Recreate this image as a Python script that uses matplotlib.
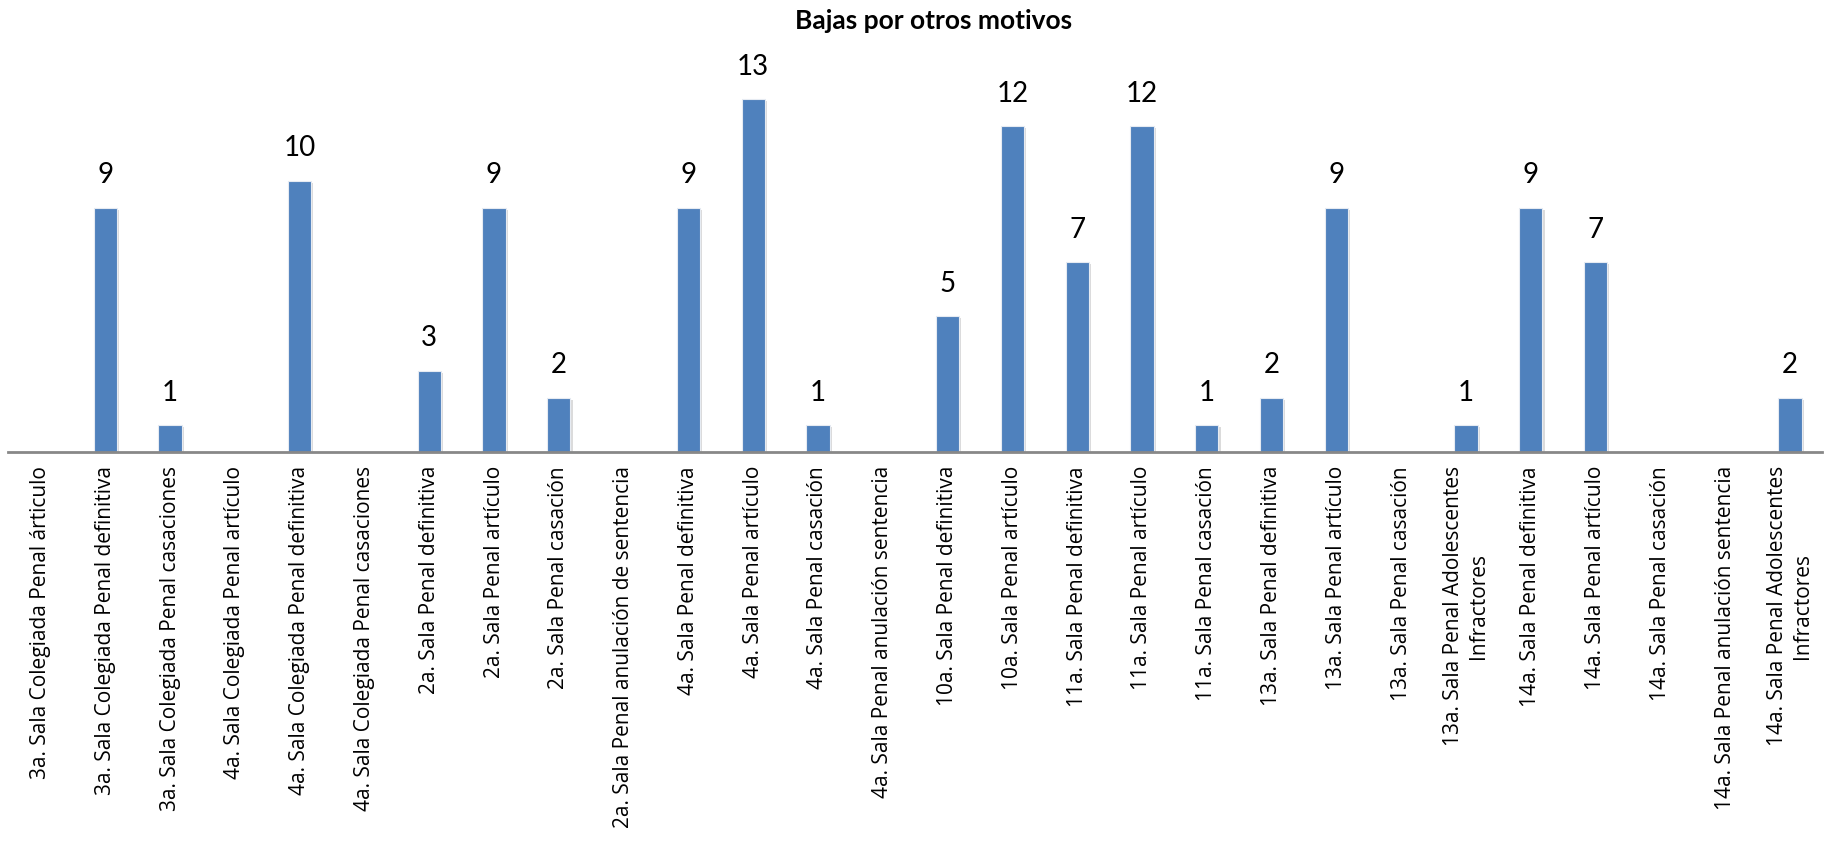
import matplotlib.pyplot as plt
import matplotlib.patheffects as pe

categories = [
    "3a. Sala Colegiada Penal árticulo",
    "3a. Sala Colegiada Penal definitiva",
    "3a. Sala Colegiada Penal casaciones",
    "4a. Sala Colegiada Penal artículo",
    "4a. Sala Colegiada Penal definitiva",
    "4a. Sala Colegiada Penal casaciones",
    "2a. Sala Penal definitiva",
    "2a. Sala Penal artículo",
    "2a. Sala Penal casación",
    "2a. Sala Penal anulación de sentencia",
    "4a. Sala Penal definitiva",
    "4a. Sala Penal artículo",
    "4a. Sala Penal casación",
    "4a. Sala Penal anulación sentencia",
    "10a. Sala Penal definitiva",
    "10a. Sala Penal artículo",
    "11a. Sala Penal definitiva",
    "11a. Sala Penal artículo",
    "11a. Sala Penal casación",
    "13a. Sala Penal definitiva",
    "13a. Sala Penal artículo",
    "13a. Sala Penal casación",
    "13a. Sala Penal Adolescentes\nInfractores",
    "14a. Sala Penal definitiva",
    "14a. Sala Penal artículo",
    "14a. Sala Penal casación",
    "14a. Sala Penal anulación sentencia",
    "14a. Sala Penal Adolescentes\nInfractores",
]
values = [0, 9, 1, 0, 10, 0, 3, 9, 2, 0, 9, 13, 1, 0, 5, 12, 7, 12, 1, 2, 9, 0, 1, 9, 7, 0, 0, 2]
title = "Bajas por otros motivos"

fig = plt.figure(figsize=(18.26, 8.42), dpi=100)
ax = fig.add_axes([0.0044, 0.463, 0.9936, 0.4515])

x = range(len(categories))
bars = ax.bar(x, values, width=0.36, color="#4F81BD", edgecolor="#E6EBF2", linewidth=0.8,
              path_effects=[pe.SimplePatchShadow(offset=(1.5, -1.5), shadow_rgbFace="#9a9a9a", alpha=0.35),
                            pe.Normal()])

# etiquetas de datos, solo para barras con valor
for b, v in zip(bars, values):
    if v > 0:
        ax.annotate(str(v), (b.get_x() + b.get_width() / 2, v), xytext=(0, 14),
                    textcoords="offset points", ha="center", va="bottom",
                    fontsize=20, family="Lato")

ax.set_xlim(-0.5, len(categories) - 0.5)
ax.set_ylim(0, 14)
ax.set_xticks(list(x))
ax.set_xticklabels(categories, rotation=90, ha="center", va="top",
                   fontsize=15, family=["Open Sans", "DejaVu Sans"], multialignment="center")
ax.tick_params(axis="x", length=0, pad=10)
ax.set_yticks([])
for s in ["top", "right", "left"]:
    ax.spines[s].set_visible(False)
ax.spines["bottom"].set_color("#888888")
ax.spines["bottom"].set_linewidth(2)

fig.text(0.511, 0.975, title, ha="center", va="center", fontsize=19,
         fontweight="bold", family="Lato")

fig.savefig("out.png", dpi=100)
